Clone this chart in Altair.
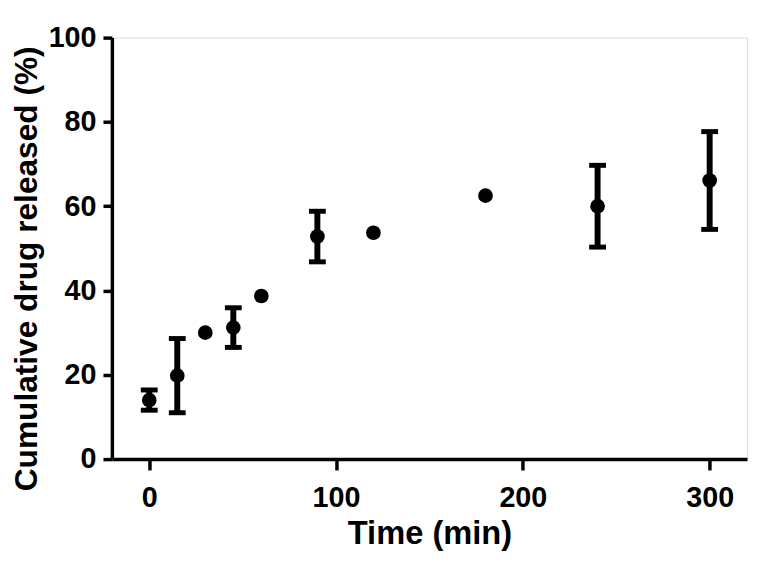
import altair as alt
import pandas as pd

time_min = [0, 15, 30, 45, 60, 90, 120, 180, 240, 300]
released = [14.0, 19.8, 30.0, 31.2, 38.7, 52.8, 53.7, 62.5, 60.0, 66.1]
sd = [2.4, 8.8, 0, 4.7, 0, 6.0, 0, 0, 9.7, 11.6]

df = pd.DataFrame({"t": time_min, "y": released, "sd": sd})
df["lo"] = df["y"] - df["sd"]
df["hi"] = df["y"] + df["sd"]
err_df = df[df["sd"] > 0]

FONT = "Liberation Sans"

xs = alt.Scale(domain=[-20, 320], nice=False, zero=False)
ys = alt.Scale(domain=[0, 100], nice=False)

x_axis = alt.Axis(
    title="Time (min)", values=[0, 100, 200, 300], grid=False,
    domainColor="black", domainWidth=3.5, tickColor="black", tickWidth=3.5,
    tickSize=11, labelPadding=14, labelFontSize=29, labelFont=FONT,
    labelFontWeight="bold", labelColor="black", titleFont=FONT,
    titleFontSize=33, titleFontWeight="bold", titleColor="black",
    titleY=85, titleBaseline="alphabetic",
)
y_axis = alt.Axis(
    title="Cumulative drug released (%)", values=[0, 20, 40, 60, 80, 100],
    grid=False, domainColor="black", domainWidth=3.5, tickColor="black",
    tickWidth=3.5, tickSize=9, labelPadding=7, labelFontSize=29,
    labelFont=FONT, labelFontWeight="bold", labelColor="black",
    titleFont=FONT, titleFontSize=32, titleFontWeight="bold",
    titleColor="black", titleAngle=270, titleX=-76, titleY=458,
    titleAlign="left", titleBaseline="alphabetic",
)

bars = alt.Chart(err_df).mark_rule(color="black", strokeWidth=6).encode(
    x=alt.X("t:Q", scale=xs, axis=x_axis),
    y=alt.Y("lo:Q", scale=ys, axis=y_axis),
    y2="hi:Q",
)
cap_lo = alt.Chart(err_df).mark_tick(
    color="black", orient="horizontal", size=17, thickness=5, opacity=1
).encode(x=alt.X("t:Q", scale=xs), y=alt.Y("lo:Q", scale=ys))
cap_hi = alt.Chart(err_df).mark_tick(
    color="black", orient="horizontal", size=17, thickness=5, opacity=1
).encode(x=alt.X("t:Q", scale=xs), y=alt.Y("hi:Q", scale=ys))
points = alt.Chart(df).mark_circle(color="black", size=220, opacity=1).encode(
    x=alt.X("t:Q", scale=xs), y=alt.Y("y:Q", scale=ys)
)

chart = alt.layer(bars, cap_lo, cap_hi, points).properties(
    width=642, height=426,
    autosize="none",
    padding={"left": 105, "top": 27, "right": 3, "bottom": 94},
).configure_view(stroke="black", strokeWidth=3.5).configure(background="white")

chart.save("out.html", embed_options={"renderer": "svg", "actions": False})
